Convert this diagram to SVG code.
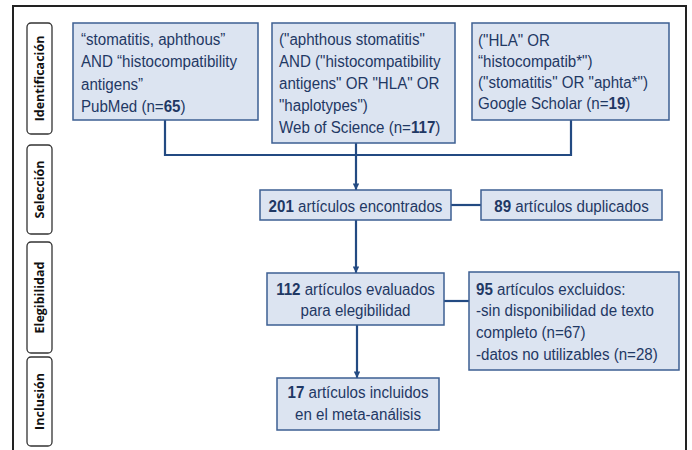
<svg xmlns="http://www.w3.org/2000/svg" width="692" height="450" viewBox="0 0 692 450">
  <defs>
    <style>
      .frame { fill: none; stroke: #222; stroke-width: 2; }
      .stage rect { fill: #fff; stroke: #333; stroke-width: 1.3; }
      .stage text { font-family: "Open Sans", "DejaVu Sans", sans-serif; font-weight: 700; font-size: 12.5px; fill: #111; text-anchor: middle; }
      .box rect { fill: #dce4f1; stroke: #3d5f92; stroke-width: 1.5; }
      .box text { font-family: "Liberation Sans", Arial, sans-serif; font-size: 16px; fill: #1f3864; }
      .box text.c { text-anchor: middle; }
      .b { font-weight: 700; }
      .conn path { fill: none; stroke: #234a82; stroke-width: 2.2; }
    </style>
    <marker id="arrow" viewBox="0 0 10 10" refX="10" refY="5" markerWidth="3" markerHeight="3" orient="auto" markerUnits="strokeWidth">
      <path d="M0,0 L10,5 L0,10 z" fill="#234a82"/>
    </marker>
  </defs>

  <rect width="692" height="450" fill="#fff"/>

  <!-- outer frame, open at the bottom -->
  <path class="frame" d="M13,452 V6 H686 V452"/>

  <!-- stage labels -->
  <g id="stage-identificacion" class="stage">
    <rect x="27" y="23" width="25" height="111" rx="4"/>
    <text transform="translate(43.5,78.5) rotate(-90)">Identificación</text>
  </g>
  <g id="stage-seleccion" class="stage">
    <rect x="27" y="145" width="25" height="89" rx="4"/>
    <text transform="translate(43.5,189.5) rotate(-90)">Selección</text>
  </g>
  <g id="stage-elegibilidad" class="stage">
    <rect x="27" y="242" width="25" height="111" rx="4"/>
    <text transform="translate(43.5,297.5) rotate(-90)">Elegibilidad</text>
  </g>
  <g id="stage-inclusion" class="stage">
    <rect x="27" y="357" width="25" height="89" rx="4"/>
    <text transform="translate(43.5,401.5) rotate(-90)">Inclusión</text>
  </g>

  <!-- connectors -->
  <g id="connectors" class="conn">
    <path d="M165,120 V155 H571 V120"/>
    <path d="M356,143 V190" marker-end="url(#arrow)"/>
    <path d="M451,205 H481"/>
    <path d="M356,220 V273" marker-end="url(#arrow)"/>
    <path d="M444,301 H469"/>
    <path d="M357,325 V378" marker-end="url(#arrow)"/>
  </g>

  <!-- search sources (text set slightly condensed) -->
  <g id="pubmed" class="box">
    <rect x="73" y="23" width="185" height="97"/>
    <text transform="translate(81 45) scale(.945 1)">“stomatitis, aphthous”</text>
    <text transform="translate(81 67) scale(.945 1)">AND “histocompatibility</text>
    <text transform="translate(81 89.5) scale(.945 1)">antigens”</text>
    <text transform="translate(81 112) scale(.945 1)">PubMed (n=<tspan class="b">65</tspan>)</text>
  </g>
  <g id="wos" class="box">
    <rect x="272" y="23" width="183" height="120"/>
    <text transform="translate(279 45) scale(.945 1)">("aphthous stomatitis"</text>
    <text transform="translate(279 67) scale(.945 1)">AND ("histocompatibility</text>
    <text transform="translate(279 89) scale(.945 1)">antigens" OR "HLA" OR</text>
    <text transform="translate(279 111) scale(.945 1)">"haplotypes")</text>
    <text transform="translate(279 133) scale(.945 1)">Web of Science (n=<tspan class="b">117</tspan>)</text>
  </g>
  <g id="scholar" class="box">
    <rect x="472" y="23" width="197" height="97"/>
    <text transform="translate(478 46) scale(.945 1)">("HLA" OR</text>
    <text transform="translate(478 67) scale(.945 1)">“histocompatib*")</text>
    <text transform="translate(478 88) scale(.945 1)">("stomatitis" OR "aphta*")</text>
    <text transform="translate(478 109) scale(.945 1)">Google Scholar (n=<tspan class="b">19</tspan>)</text>
  </g>

  <!-- screening -->
  <g id="found" class="box">
    <rect x="260" y="190" width="191" height="30"/>
    <text class="c" transform="translate(355.5 212) scale(.945 1)"><tspan class="b">201</tspan> artículos encontrados</text>
  </g>
  <g id="duplicates" class="box">
    <rect x="481" y="190" width="181" height="30"/>
    <text class="c" transform="translate(571.5 212) scale(.945 1)"><tspan class="b">89</tspan> artículos duplicados</text>
  </g>

  <!-- eligibility -->
  <g id="assessed" class="box">
    <rect x="267" y="273" width="177" height="52"/>
    <text class="c" transform="translate(355.5 295) scale(.945 1)"><tspan class="b">112</tspan> artículos evaluados</text>
    <text class="c" transform="translate(355.5 316) scale(.945 1)">para elegibilidad</text>
  </g>
  <g id="excluded" class="box">
    <rect x="469" y="272" width="210" height="98"/>
    <text transform="translate(476 295) scale(.945 1)"><tspan class="b">95</tspan> artículos excluidos:</text>
    <text transform="translate(476 316) scale(.945 1)">-sin disponibilidad de texto</text>
    <text transform="translate(476 338) scale(.945 1)">completo (n=67)</text>
    <text transform="translate(476 360) scale(.945 1)">-datos no utilizables (n=28)</text>
  </g>

  <!-- inclusion -->
  <g id="included" class="box">
    <rect x="277" y="378" width="162" height="52"/>
    <text class="c" transform="translate(358 398) scale(.945 1)"><tspan class="b">17</tspan> artículos incluidos</text>
    <text class="c" transform="translate(358 420) scale(.945 1)">en el meta-análisis</text>
  </g>
</svg>
